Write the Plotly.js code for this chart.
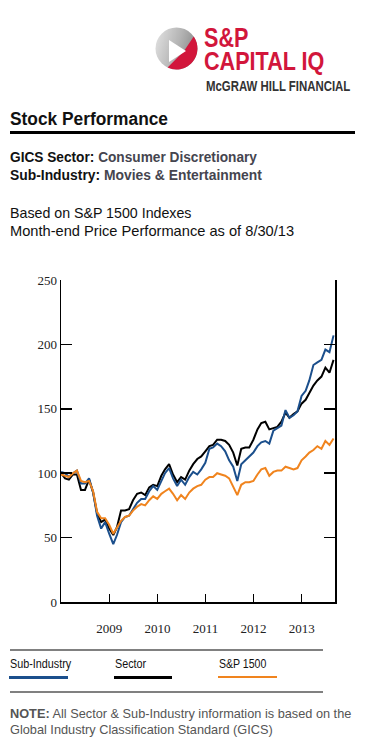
<!DOCTYPE html>
<html><head><meta charset="utf-8">
<script src="https://cdn.plot.ly/plotly-3.0.1.min.js"></script>
<style>
html,body{margin:0;padding:0;background:#fff;width:366px;height:755px;overflow:hidden;}
.t{position:absolute;white-space:nowrap;line-height:1;font-family:"Liberation Sans",Arial,sans-serif;color:#111;transform-origin:0 0;}
.b{font-weight:bold;}
.bar{position:absolute;}
</style></head><body>

<svg style="position:absolute;left:0;top:0" width="366" height="100">
  <defs>
    <linearGradient id="g" x1="0" y1="0" x2="1" y2="0.3">
      <stop offset="0" stop-color="#e4e4e4"/>
      <stop offset="0.6" stop-color="#b4b4b4"/>
      <stop offset="1" stop-color="#8c8c8c"/>
    </linearGradient>
  </defs>
  <circle cx="176.5" cy="48.5" r="21" fill="url(#g)"/>
  <path d="M184 51 L193.7 36.5 A21 21 0 0 1 167.6 67.5 Z" fill="#d2163b"/>
  <polygon points="169,40 169,62 186,51" fill="#ffffff"/>
</svg>
<div class="t b" style="left:204px;top:28px;font-size:27px;line-height:0.8;color:#d2163b;transform:scaleX(0.8);">S&amp;P</div>
<div class="t b" style="left:204px;top:51px;font-size:26px;line-height:0.8;color:#d2163b;transform:scaleX(0.83);">CAPITAL IQ</div>
<div class="t b" style="left:206px;top:79px;font-size:14px;color:#333;transform:scaleX(0.815);">McGRAW HILL FINANCIAL</div>

<div class="t b" style="left:10px;top:110px;font-size:18px;transform:scaleX(0.963);">Stock Performance</div>
<div class="bar" style="left:10px;top:131px;width:345px;height:3px;background:#000;"></div>
<div class="t" style="left:10px;top:150px;font-size:14.5px;transform:scaleX(0.943);"><span class="b">GICS Sector:</span> <span class="b" style="color:#45454f;">Consumer Discretionary</span></div>
<div class="t" style="left:10px;top:168px;font-size:14.5px;transform:scaleX(0.956);"><span class="b">Sub-Industry:</span> <span class="b" style="color:#45454f;">Movies &amp; Entertainment</span></div>
<div class="t" style="left:10px;top:206px;font-size:14.5px;transform:scaleX(0.98);">Based on S&amp;P 1500 Indexes</div>
<div class="t" style="left:10px;top:224px;font-size:14.5px;transform:scaleX(1.01);">Month-end Price Performance as of 8/30/13</div>

<div id="chart" style="position:absolute;left:0;top:260px;width:366px;height:390px;"></div>

<div class="bar" style="left:10px;top:649px;width:313px;height:2px;background:#808080;"></div>
<div class="t" style="left:10px;top:658px;font-size:12px;transform:scaleX(0.9);">Sub-Industry</div>
<div class="t" style="left:115px;top:658px;font-size:12px;transform:scaleX(0.9);">Sector</div>
<div class="t" style="left:219px;top:658px;font-size:12px;transform:scaleX(0.88);">S&amp;P 1500</div>
<div class="bar" style="left:9px;top:676px;width:59px;height:3px;background:#1b4f8c;"></div>
<div class="bar" style="left:114px;top:676px;width:58px;height:3px;background:#000;"></div>
<div class="bar" style="left:218px;top:676px;width:59px;height:2px;background:#f0841e;"></div>
<div class="bar" style="left:10px;top:691px;width:313px;height:2px;background:#808080;"></div>

<div class="t" style="left:10px;top:707px;font-size:13px;color:#555;transform:scaleX(0.98);"><span class="b">NOTE:</span> All Sector &amp; Sub-Industry information is based on the</div>
<div class="t" style="left:10px;top:723px;font-size:13px;color:#555;transform:scaleX(0.98);">Global Industry Classification Standard (GICS)</div>

<script>
// Month-end observations, Dec 2007 .. Aug 2013
var months = [
 "2007-12",
 "2008-01","2008-02","2008-03","2008-04","2008-05","2008-06","2008-07","2008-08","2008-09","2008-10","2008-11","2008-12",
 "2009-01","2009-02","2009-03","2009-04","2009-05","2009-06","2009-07","2009-08","2009-09","2009-10","2009-11","2009-12",
 "2010-01","2010-02","2010-03","2010-04","2010-05","2010-06","2010-07","2010-08","2010-09","2010-10","2010-11","2010-12",
 "2011-01","2011-02","2011-03","2011-04","2011-05","2011-06","2011-07","2011-08","2011-09","2011-10","2011-11","2011-12",
 "2012-01","2012-02","2012-03","2012-04","2012-05","2012-06","2012-07","2012-08","2012-09","2012-10","2012-11","2012-12",
 "2013-01","2013-02","2013-03","2013-04","2013-05","2013-06","2013-07","2013-08"
];
var subIndustry = [
 101,100,97,100,102,92,92,96,85,67,
 57,62,53,45,52,62,66,67,72,77,
 80,80,86,90,87,94,100,104,96,90,
 95,91,97,101,99,103,108,119,120,123,
 121,117,110,105,94,107,110,113,116,121,
 124,125,123,133,135,137,149,143,145,148,
 160,164,172,184,186,188,196,194,207
];
var sector = [
 100,96,95,99,99,87,87,95,85,69,
 62,64,57,52,58,71,71,72,79,84,
 85,83,89,91,90,98,103,107,99,93,
 97,95,102,107,111,113,117,121,122,126,
 126,125,122,116,106,119,120,120,126,134,
 139,140,134,135,136,140,147,143,146,148,
 154,157,162,168,172,175,182,178,188
];
var sp1500 = [
 99,98,97,100,102,94,93,94,86,70,
 65,65,60,53,58,63,66,67,71,74,
 76,75,79,82,80,84,86,88,84,79,
 83,80,85,88,90,91,95,97,97,100,
 99,98,96,90,83,91,93,93,94,99,
 103,104,98,101,102,102,105,104,103,104,
 110,113,116,118,121,119,125,122,127
];
var yearTicks = ["2009-01-01","2010-01-01","2011-01-01","2012-01-01","2013-01-01"];
var yearLabels = ["2009","2010","2011","2012","2013"];
var yTicks = [0,50,100,150,200,250];

function monthEnd(s){
  var p = s.split("-"); var y = +p[0], m = +p[1];
  var d = new Date(Date.UTC(y, m, 0));
  return d.toISOString().slice(0,10);
}
var dates = months.map(monthEnd);

var traces = [
  {x: dates, y: sector, name: "Sector", type: "scatter", mode: "lines", line: {color: "#000000", width: 2}},
  {x: dates, y: subIndustry, name: "Sub-Industry", type: "scatter", mode: "lines", line: {color: "#1b4f8c", width: 2}},
  {x: dates, y: sp1500, name: "S&P 1500", type: "scatter", mode: "lines", line: {color: "#f0841e", width: 2}}
];
var tickfont = {family: "Liberation Serif", size: 13, color: "#222"};
var layout = {
  width: 366, height: 390,
  margin: {l: 61, r: 31, t: 20, b: 48, pad: 0},
  paper_bgcolor: "rgba(0,0,0,0)", plot_bgcolor: "rgba(0,0,0,0)",
  showlegend: false,
  xaxis: {
    type: "date", range: ["2007-12-31", "2013-09-11"],
    tickmode: "array", tickvals: yearTicks, ticktext: yearLabels,
    ticks: "inside", ticklen: 8, tickwidth: 1.5, tickcolor: "#000",
    showline: true, linecolor: "#000", linewidth: 1.5, mirror: false,
    showgrid: false, zeroline: false, tickfont: tickfont, ticklabelstandoff: 14
  },
  yaxis: {
    range: [0, 250], tickmode: "array", tickvals: yTicks,
    ticks: "inside", ticklen: 11, tickwidth: 1.5, tickcolor: "#000",
    showline: true, linecolor: "#000", linewidth: 1.5, mirror: "allticks",
    showgrid: false, zeroline: false, tickfont: tickfont
  }
};
Plotly.newPlot("chart", traces, layout, {displayModeBar: false, staticPlot: true});
</script>
</body></html>
